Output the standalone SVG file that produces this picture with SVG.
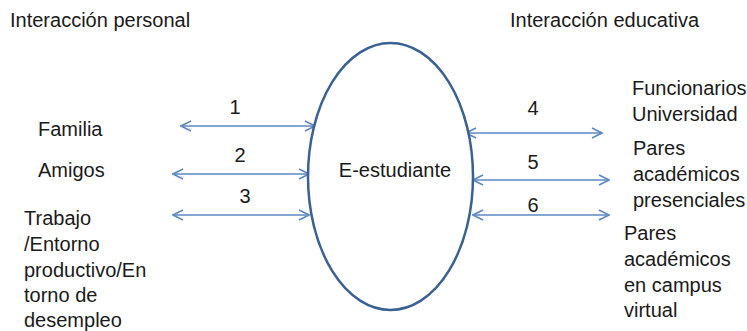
<svg xmlns="http://www.w3.org/2000/svg" width="747" height="331" viewBox="0 0 747 331">
<style>
text{font-family:"Liberation Sans",Arial,sans-serif;font-size:20px;fill:#1a1a1a}
.c{stroke:#5d88c2;stroke-width:1.6;fill:none}
.e{stroke:#3a6193;stroke-width:2.5;fill:#fff}
</style>
<defs>
<marker id="ah" viewBox="0 0 12 12" refX="11" refY="6" markerWidth="12" markerHeight="12" markerUnits="userSpaceOnUse" orient="auto-start-reverse">
<path d="M1,1 L11,6 L1,11" fill="none" stroke="#5d88c2" stroke-width="1.6"/>
</marker>
</defs>
<rect width="747" height="331" fill="#fff"/>
<text x="10" y="27">Interacción personal</text>
<text x="510" y="27">Interacción educativa</text>
<g id="connectors">
<line class="c" x1="181" y1="126" x2="315" y2="126" marker-start="url(#ah)" marker-end="url(#ah)"/>
<line class="c" x1="173" y1="174" x2="309" y2="174" marker-start="url(#ah)" marker-end="url(#ah)"/>
<line class="c" x1="173" y1="215" x2="309" y2="215" marker-start="url(#ah)" marker-end="url(#ah)"/>
<line class="c" x1="466" y1="133" x2="602" y2="133" marker-start="url(#ah)" marker-end="url(#ah)"/>
<line class="c" x1="473" y1="180" x2="609" y2="180" marker-start="url(#ah)" marker-end="url(#ah)"/>
<line class="c" x1="473" y1="215" x2="609" y2="215" marker-start="url(#ah)" marker-end="url(#ah)"/>
<text x="235" y="114" text-anchor="middle">1</text>
<text x="240" y="162" text-anchor="middle">2</text>
<text x="245" y="203" text-anchor="middle">3</text>
<text x="533" y="115" text-anchor="middle">4</text>
<text x="533" y="169" text-anchor="middle">5</text>
<text x="533" y="212" text-anchor="middle">6</text>
</g>
<g id="estudiante">
<ellipse class="e" cx="390.5" cy="176.5" rx="82.5" ry="133.5"/>
<text x="395" y="177" text-anchor="middle">E-estudiante</text>
</g>
<g id="familia"><text x="38" y="136">Familia</text></g>
<g id="amigos"><text x="38" y="177">Amigos</text></g>
<g id="trabajo">
<text x="24" y="225">Trabajo</text>
<text x="24" y="251">/Entorno</text>
<text x="24" y="277">productivo/En</text>
<text x="24" y="302">torno de</text>
<text x="24" y="327">desempleo</text>
</g>
<g id="funcionarios">
<text x="632" y="95">Funcionarios</text>
<text x="632" y="121">Universidad</text>
</g>
<g id="presenciales">
<text x="633" y="155">Pares</text>
<text x="633" y="181">académicos</text>
<text x="633" y="207">presenciales</text>
</g>
<g id="virtual">
<text x="624" y="240">Pares</text>
<text x="624" y="266">académicos</text>
<text x="624" y="292">en campus</text>
<text x="624" y="317">virtual</text>
</g>
</svg>
